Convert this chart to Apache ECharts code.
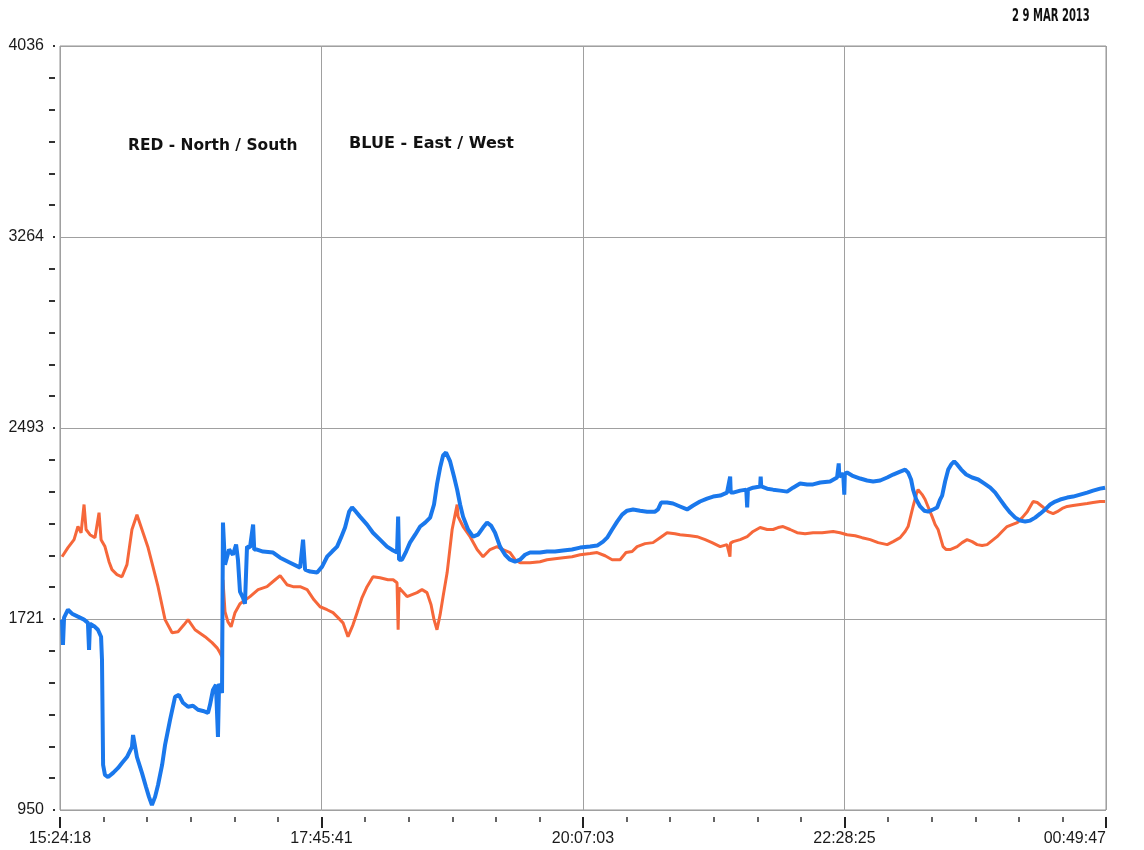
<!DOCTYPE html>
<html>
<head>
<meta charset="utf-8">
<script src="https://cdn.jsdelivr.net/npm/echarts@6/dist/echarts.min.js"></script>
<style>
html,body{margin:0;padding:0;background:#fff;}
#chart{width:1144px;height:850px;}
</style>
</head>
<body>
<div id="chart"></div>
<script>
// Time axis tick labels (5 major ticks, equally spaced over the recording)
const xLabels = ['15:24:18', '17:45:41', '20:07:03', '22:28:25', '00:49:47'];
// Value axis tick labels
const yLabels = ['950', '1721', '2493', '3264', '4036'];
const yMin = 950;
const yMax = 4036;
const totalMinutes = 33929 / 60; // 15:24:18 -> 00:49:47

const dateText = '2 9 MAR 2013';
const redNote = 'RED - North / South';
const blueNote = 'BLUE - East / West';

// RED - North / South : time (minutes after 15:24:18), value
const redTime = [1.1,4.3,7.6,9.7,11.4,13.0,14.1,16.2,18.9,21.1,22.2,24.3,26.5,28.1,30.8,33.5,36.2,38.9,41.6,44.9,47.6,49.7,53.0,56.8,60.6,63.8,67.0,69.2,73.0,78.4,82.2,84.9,86.5,87.6,88.1,89.2,90.8,92.5,94.6,97.3,102.7,107.1,111.9,116.3,119.0,122.7,126.0,129.8,133.6,137.3,140.6,144.4,147.6,150.3,153.0,155.7,158.4,160.6,163.3,166.0,169.2,173.0,177.3,180.1,182.2,182.8,183.3,187.6,190.3,193.0,195.7,198.4,200.6,202.2,203.8,205.5,207.1,209.3,212.0,213.6,214.7,215.2,217.9,221.7,225.5,228.7,232.5,236.3,239.5,243.3,246.0,248.7,254.1,259.5,263.3,267.6,272.0,276.8,281.2,286.6,290.4,294.7,298.5,302.8,306.0,309.3,312.0,316.3,320.6,324.4,328.2,332.5,335.2,340.6,344.4,348.8,352.5,356.9,360.6,362.2,362.5,363.9,367.7,371.5,374.7,378.5,382.3,385.5,388.2,390.9,394.7,398.5,402.8,407.1,412.0,418.0,421.7,425.5,429.9,433.6,438.0,442.3,447.2,450.4,454.2,456.9,458.5,460.1,461.2,462.9,463.9,466.1,467.7,469.9,471.5,473.1,474.7,476.3,477.4,479.1,481.2,485.0,487.7,490.4,493.1,495.8,498.5,501.2,503.9,506.6,509.3,512.0,514.7,517.5,520.2,522.9,526.1,528.3,531.0,534.2,536.9,539.1,541.8,544.5,547.7,551.5,555.3,558.5,562.3,565.0];
const redValue = [1973,2010,2042,2095,2070,2184,2083,2062,2050,2151,2042,2014,1953,1921,1901,1892,1941,2083,2143,2070,2010,1949,1852,1719,1666,1670,1698,1719,1678,1650,1626,1605,1585,1569,1880,1751,1710,1690,1747,1783,1812,1840,1852,1880,1897,1860,1852,1852,1840,1799,1771,1759,1747,1727,1706,1650,1698,1747,1808,1852,1892,1888,1880,1880,1868,1678,1848,1812,1820,1828,1840,1828,1779,1719,1678,1739,1812,1909,2083,2143,2184,2135,2095,2054,2002,1973,2002,2014,2002,1990,1961,1949,1949,1953,1961,1965,1969,1973,1981,1986,1990,1977,1961,1961,1990,1994,2014,2026,2030,2050,2070,2066,2062,2058,2054,2042,2030,2014,2022,1973,2028,2034,2042,2054,2075,2091,2083,2083,2091,2095,2083,2070,2066,2070,2070,2075,2070,2062,2058,2050,2042,2030,2022,2034,2050,2075,2095,2143,2176,2224,2244,2224,2204,2164,2135,2103,2083,2042,2014,2002,2002,2014,2030,2042,2034,2022,2018,2022,2038,2054,2075,2095,2103,2111,2131,2155,2196,2192,2176,2155,2147,2155,2168,2176,2180,2184,2188,2192,2196,2196];

// BLUE - East / West : time (minutes after 15:24:18), value
const blueTime = [1.1,1.6,2.2,4.3,6.5,9.7,13.0,15.1,15.7,16.2,18.9,20.5,22.2,22.7,23.3,24.3,26.0,28.7,31.4,33.5,36.2,38.9,39.5,41.6,44.3,46.5,48.1,49.7,51.4,53.0,55.2,56.8,59.5,62.2,64.3,66.5,69.2,71.9,74.6,77.3,80.0,81.1,82.7,84.3,85.4,86.0,87.6,88.1,89.2,91.4,93.5,95.2,96.2,97.3,98.9,100.0,101.1,102.7,104.4,105.0,106.5,109.8,115.2,119.0,124.4,129.8,131.4,132.5,135.2,139.0,141.7,144.4,147.1,149.8,151.9,154.1,156.3,157.9,160.0,162.2,166.0,169.2,173.0,176.8,180.1,182.2,182.8,183.3,184.9,187.1,189.2,192.0,194.7,197.4,200.1,202.2,203.8,205.5,207.1,208.7,210.9,213.0,214.7,216.3,217.9,220.6,223.3,226.0,228.7,230.9,233.0,235.2,237.9,240.6,243.3,246.0,248.7,251.4,254.1,259.5,263.3,267.6,272.0,276.8,281.2,286.6,290.4,293.6,295.8,298.5,301.2,303.9,306.6,309.8,313.6,317.4,321.7,323.3,325.0,328.2,331.4,335.2,339.0,342.3,346.0,349.8,353.1,356.9,360.6,362.3,362.6,363.9,367.7,371.0,371.5,371.9,374.7,378.5,378.8,379.1,382.3,385.5,389.3,393.1,396.3,400.1,403.9,407.1,411.0,416.3,420.1,421.0,421.3,423.4,424.0,424.3,425.5,428.2,432.6,436.3,439.6,443.4,447.2,450.4,454.2,456.9,458.5,460.1,461.2,462.9,465.0,467.2,469.4,472.0,474.2,475.8,476.9,478.5,480.2,481.8,483.4,485.0,487.2,489.9,493.1,496.4,499.6,502.9,505.6,508.3,511.0,513.7,516.4,519.1,521.8,524.5,527.2,529.9,532.6,535.3,538.0,540.7,544.5,547.7,551.5,555.3,558.5,562.3,565.0];
const blueValue = [1719,1617,1727,1759,1743,1731,1719,1706,1597,1702,1690,1678,1650,1557,1132,1092,1083,1100,1120,1140,1164,1205,1253,1164,1100,1043,1003,970,1003,1051,1132,1213,1314,1407,1415,1383,1367,1371,1355,1350,1342,1375,1435,1456,1245,1460,1423,2111,1941,2002,1981,2022,1961,1832,1808,1783,2014,2010,2103,2002,2002,1994,1990,1969,1949,1929,2042,1921,1913,1909,1933,1973,1994,2014,2050,2091,2155,2172,2155,2135,2103,2070,2042,2014,1998,1990,2135,1961,1961,1994,2030,2062,2095,2111,2131,2184,2265,2333,2382,2394,2358,2297,2244,2184,2135,2083,2054,2062,2091,2111,2099,2070,2014,1981,1961,1953,1961,1981,1990,1990,1994,1994,1998,2002,2010,2014,2018,2034,2050,2083,2115,2143,2159,2164,2159,2155,2155,2164,2192,2192,2188,2176,2164,2180,2196,2208,2216,2220,2232,2297,2232,2232,2240,2244,2172,2244,2252,2257,2297,2257,2248,2244,2240,2236,2252,2269,2265,2265,2273,2277,2293,2350,2296,2309,2224,2309,2313,2301,2289,2281,2277,2281,2293,2305,2317,2325,2313,2285,2244,2204,2176,2159,2155,2164,2172,2204,2220,2277,2325,2346,2358,2346,2325,2305,2293,2285,2269,2252,2232,2204,2176,2151,2131,2119,2115,2119,2131,2147,2164,2184,2196,2204,2212,2216,2224,2232,2240,2248,2252];

const redColor = '#F6673A';
const blueColor = '#1A78EC';
const textFont = '"Liberation Sans", Arial, sans-serif';

const chart = echarts.init(document.getElementById('chart'), null, {renderer: 'canvas'});

const tickAxisCommon = {
  type: 'value', min: 0, max: 4, interval: 1
};

chart.setOption({
  animation: false,
  backgroundColor: '#ffffff',
  grid: {
    left: 60, right: 38, top: 46, bottom: 40,
    show: true, borderColor: '#949494', borderWidth: 1
  },
  xAxis: [
    {type: 'value', min: 0, max: totalMinutes, show: false, axisLine: {onZero: false}},
    Object.assign({}, tickAxisCommon, {
      position: 'bottom',
      axisLine: {show: false, onZero: false},
      axisTick: {show: false},
      axisLabel: {show: false},
      splitLine: {show: true, lineStyle: {color: '#a0a0a0', width: 1}}
    }),
    Object.assign({}, tickAxisCommon, {
      position: 'bottom', offset: 7,
      axisLine: {show: false, onZero: false},
      axisTick: {show: true, length: 11, lineStyle: {color: '#222', width: 2}},
      minorTick: {show: true, splitNumber: 6, length: 5, lineStyle: {color: '#333', width: 1.5}},
      splitLine: {show: false},
      axisLabel: {
        margin: 14, fontSize: 16, color: '#1a1a1a', fontFamily: textFont,
        alignMaxLabel: 'right',
        formatter: function (v) { return xLabels[Math.round(v)]; }
      }
    })
  ],
  yAxis: [
    {type: 'value', min: yMin, max: yMax, show: false, axisLine: {onZero: false}},
    Object.assign({}, tickAxisCommon, {
      position: 'left',
      axisLine: {show: false, onZero: false},
      axisTick: {show: false},
      axisLabel: {show: false},
      splitLine: {show: true, lineStyle: {color: '#a0a0a0', width: 1}}
    }),
    Object.assign({}, tickAxisCommon, {
      position: 'left', offset: 5,
      axisLine: {show: false, onZero: false},
      axisTick: {show: true, length: 2, lineStyle: {color: '#333', width: 2}},
      minorTick: {show: true, splitNumber: 6, length: 6, lineStyle: {color: '#333', width: 2}},
      splitLine: {show: false},
      axisLabel: {
        margin: 11, fontSize: 16, color: '#1a1a1a', fontFamily: textFont,
        formatter: function (v) { return yLabels[Math.round(v)]; }
      }
    })
  ],
  series: [
    {
      name: 'RED - North / South', type: 'line', xAxisIndex: 0, yAxisIndex: 0,
      data: redTime.map(function (t, i) { return [t, redValue[i]]; }),
      showSymbol: false, symbol: 'none', sampling: null,
      lineStyle: {color: redColor, width: 3}, z: 2
    },
    {
      name: 'BLUE - East / West', type: 'line', xAxisIndex: 0, yAxisIndex: 0,
      data: blueTime.map(function (t, i) { return [t, blueValue[i]]; }),
      showSymbol: false, symbol: 'none', sampling: null,
      lineStyle: {color: blueColor, width: 4}, z: 3
    }
  ],
  graphic: [
    {type: 'text', x: 1012, y: 8, scaleX: 0.59,
     style: {text: dateText, fontSize: 17, fontWeight: 'bold', fontFamily: '"DejaVu Sans", sans-serif', fill: '#111'}},
    {type: 'text', x: 128, y: 139, scaleX: 1.03,
     style: {text: redNote, fontSize: 15, fontWeight: 'bold', fontFamily: '"DejaVu Sans", sans-serif', fill: '#111'}},
    {type: 'text', x: 349, y: 137, scaleX: 1.07,
     style: {text: blueNote, fontSize: 15, fontWeight: 'bold', fontFamily: '"DejaVu Sans", sans-serif', fill: '#111'}}
  ]
});
</script>
</body>
</html>
